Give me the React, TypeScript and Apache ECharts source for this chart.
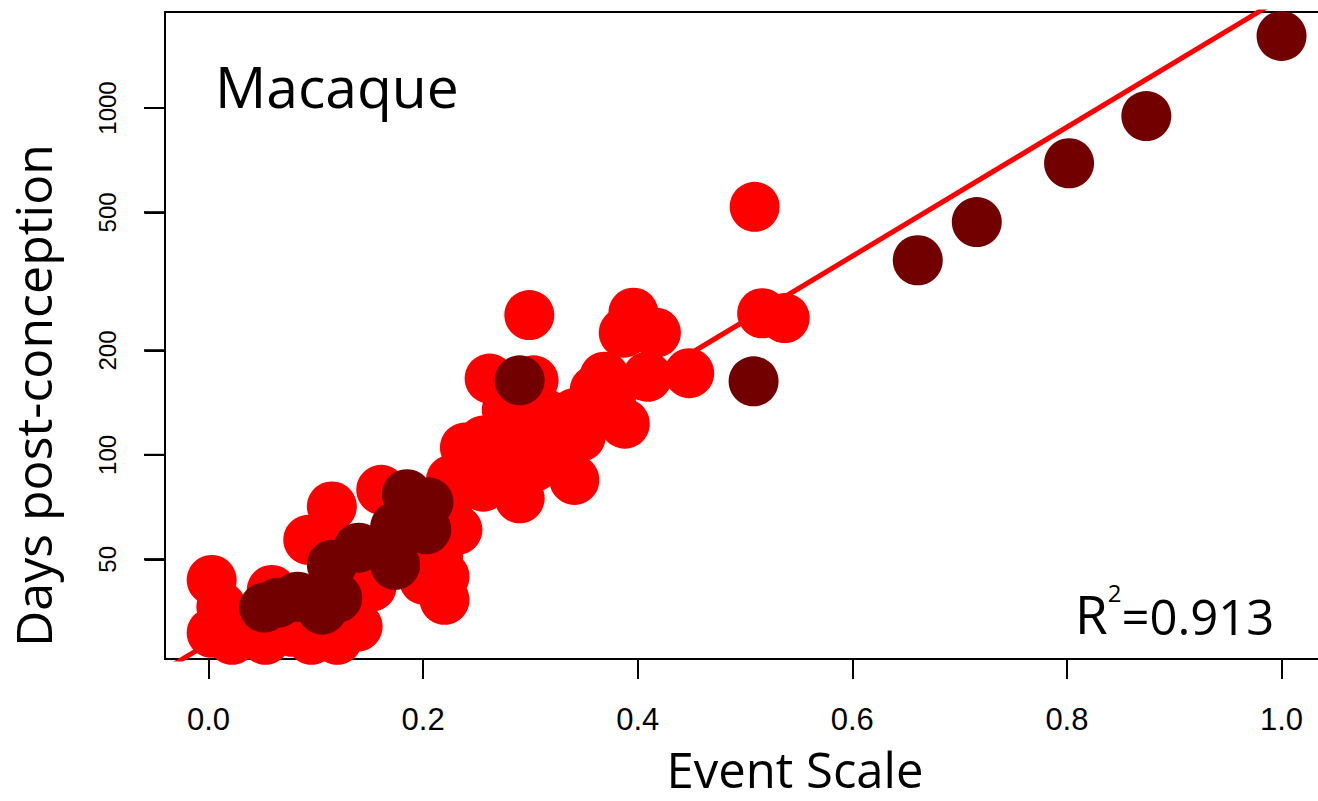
import React, { useEffect, useRef } from "react";
import * as echarts from "echarts";

// Event scale (x) and days post-conception (y)
const redX = [0.003, 0.003, 0.012, 0.022, 0.053, 0.059, 0.096, 0.093, 0.105, 0.115, 0.139, 0.146, 0.152, 0.161, 0.201, 0.214, 0.217, 0.220, 0.220, 0.231, 0.239, 0.226, 0.245, 0.256, 0.256, 0.262, 0.282, 0.290, 0.292, 0.299, 0.303, 0.304, 0.313, 0.320, 0.341, 0.341, 0.347, 0.360, 0.369, 0.387, 0.388, 0.396, 0.409, 0.417, 0.448, 0.509, 0.516, 0.537, 0.273, 0.310, 0.329, 0.375, 0.268, 0.240, 0.278, 0.078, 0.120, 0.040, 0.175, 0.232];
const redY = [43.6, 30.7, 36.5, 29.3, 29.3, 40.8, 29.3, 56.9, 55.7, 71.0, 32.0, 42.7, 41.7, 79.3, 43.6, 50.9, 58.1, 44.6, 38.2, 79.3, 105, 84.7, 103, 110, 81.0, 166, 92.5, 75.0, 121, 253, 164, 92.5, 132, 101, 132, 84.7, 113, 154, 168, 225, 123, 257, 168, 225, 172, 519, 256, 248, 107, 110, 118, 144, 90.5, 90.5, 135, 30.9, 29.3, 32.4, 55.0, 60.8];

const darkX = [0.052, 0.065, 0.083, 0.106, 0.120, 0.115, 0.140, 0.174, 0.185, 0.205, 0.203, 0.174, 0.290, 0.508, 0.661, 0.716, 0.802, 0.874, 1.000];
const darkY = [36.3, 37.5, 39.0, 35.8, 38.7, 48.2, 54.0, 48.2, 77, 73, 61, 62, 164, 163, 364, 469, 693, 948, 1613];

// regression line end points
const fitX = [-0.05, 1.05];
const fitY = [23.1, 2570];

const xTicks = [0, 0.2, 0.4, 0.6, 0.8, 1.0];
const yTicks = [50, 100, 200, 500, 1000];

const xRange = [-0.0405, 1.0405];
const yRange = [25.8, 1891];

const RED = "#ff0000";
const DARK = "#720000";

export default function App() {
  const ref = useRef<HTMLDivElement>(null);
  useEffect(() => {
    if (!ref.current) return;
    const chart = echarts.init(ref.current, null, { renderer: "svg" });
    const L = (v: number) => Math.log10(v);
    const texts: any[] = [
      {
        type: "text",
        x: 215,
        y: 86,
        style: { text: "Macaque", font: "57px 'Open Sans'", fill: "#000", verticalAlign: "middle", align: "left" },
      },
      {
        type: "text",
        x: 1075,
        y: 610,
        style: {
          text: "{r|R}{s|2}{n|=0.913}",
          fill: "#000",
          verticalAlign: "middle",
          align: "left",
          rich: {
            r: { fontFamily: "Open Sans", fontSize: 53, lineHeight: 60, verticalAlign: "bottom" },
            s: { fontFamily: "Open Sans", fontSize: 24, lineHeight: 60, verticalAlign: "top" },
            n: { fontFamily: "Open Sans", fontSize: 49, lineHeight: 60, verticalAlign: "bottom" },
          },
        },
      },
    ];
    const option: any = {
      animation: false,
      backgroundColor: "#ffffff",
      grid: {
        left: 163,
        top: 12,
        width: 1162,
        height: 647,
        show: true,
        borderColor: "#000",
        borderWidth: 2,
        backgroundColor: "transparent",
      },
      xAxis: {
        type: "value",
        position: "bottom",
        min: xRange[0],
        max: xRange[1],
        axisLine: { show: true, onZero: false, lineStyle: { color: "#000", width: 2 } },
        splitLine: { show: false },
        axisTick: {
          show: true,
          length: 20,
          inside: false,
          customValues: xTicks,
          lineStyle: { color: "#000", width: 2 },
        },
        axisLabel: {
          customValues: xTicks,
          formatter: (v: number) => v.toFixed(1),
          margin: 45,
          fontFamily: "Liberation Sans",
          fontSize: 31,
          color: "#000",
        },
        name: "Event Scale",
        nameLocation: "middle",
        nameGap: 90,
        nameTextStyle: {
          fontFamily: "Open Sans",
          fontSize: 49,
          lineHeight: 40,
          color: "#000",
          padding: [0, 0, 0, 100],
        },
      },
      yAxis: {
        type: "value",
        position: "left",
        min: L(yRange[0]),
        max: L(yRange[1]),
        axisLine: { show: true, onZero: false, lineStyle: { color: "#000", width: 2 } },
        splitLine: { show: false },
        axisTick: {
          show: true,
          inside: false,
          length: 20,
          customValues: yTicks.map(L),
          lineStyle: { color: "#000", width: 2 },
        },
        axisLabel: {
          customValues: yTicks.map(L),
          formatter: (v: number) => String(Math.round(Math.pow(10, v))),
          rotate: 90,
          margin: 46,
          fontFamily: "Liberation Sans",
          fontSize: 24,
          color: "#000",
        },
        name: "Days post-conception",
        nameLocation: "middle",
        nameGap: 107,
        nameTextStyle: {
          fontFamily: "Open Sans",
          fontSize: 50,
          color: "#000",
          padding: [0, 120, 0, 0],
        },
      },
      graphic: texts,
      series: [
        {
          // y-axis tick marks drawn through the axis scale, on the top layer
          type: "custom",
          clip: false,
          silent: true,
          zlevel: 10,
          z: 100,
          data: yTicks.map((t) => [xRange[0], L(t)]),
          renderItem: (params: any, api: any) => {
            const p = api.coord([api.value(0), api.value(1)]);
            return {
              type: "rect",
              shape: { x: p[0] - 21, y: p[1] - 1, width: 22, height: 2 },
              style: { fill: "#000" },
            };
          },
        },
        {
          type: "line",
          data: fitX.map((x, i) => [x, L(fitY[i])]),
          symbol: "none",
          clip: true,
          lineStyle: { color: RED, width: 5 },
          z: 1,
          silent: true,
        },
        {
          type: "scatter",
          data: redX.map((x, i) => [x, L(redY[i])]),
          symbol: "circle",
          symbolSize: 50,
          itemStyle: { color: RED, opacity: 1 },
          z: 2,
        },
        {
          type: "scatter",
          data: darkX.map((x, i) => [x, L(darkY[i])]),
          symbol: "circle",
          symbolSize: 50,
          itemStyle: { color: DARK, opacity: 1 },
          z: 3,
        },
      ],
    };
    chart.setOption(option);

    try {
      const marks = yTicks.map((t) => {
        const p = chart.convertToPixel({ xAxisIndex: 0, yAxisIndex: 0 } as any, [xRange[0], L(t)]) as number[];
        return {
          type: "rect",
          zlevel: 10,
          z: 1000,
          silent: true,
          shape: { x: p[0] - 21, y: p[1] - 1, width: 22, height: 2 },
          style: { fill: "#000" },
        };
      });
      chart.setOption({ graphic: [...texts, ...marks] });
    } catch (e) {
      // keep the chart as drawn
    }
    return () => chart.dispose();
  }, []);
  return (
    <div style={{ position: "absolute", left: 0, top: 0, width: 1318, height: 801, overflow: "hidden" }}>
      <div ref={ref} style={{ width: 1340, height: 801 }} />
    </div>
  );
}
